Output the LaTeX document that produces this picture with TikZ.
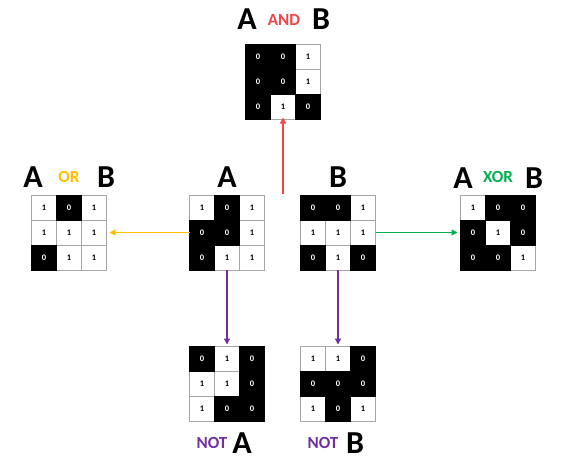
\documentclass[tikz,border=0pt]{standalone}
\usepackage{fontspec}
\setmainfont{Carlito}
\usetikzlibrary{arrows.meta,calc}
\definecolor{andred}{RGB}{242,70,70}
\definecolor{orgold}{RGB}{255,192,0}
\definecolor{xorgreen}{RGB}{0,176,80}
\definecolor{notpurple}{RGB}{112,48,160}
\tikzset{
  gridbox/.style={minimum size=75pt,inner sep=0pt,outer sep=0pt},
  cellw/.style={draw=gray!70,line width=0.7pt,fill=white,text=black,minimum size=25pt,inner sep=0pt,font=\fontsize{8.5}{8.5}\selectfont\bfseries},
  cellb/.style={draw=black,line width=0.7pt,fill=black,text=white,minimum size=25pt,inner sep=0pt,font=\fontsize{8.5}{8.5}\selectfont\bfseries},
  biglet/.style={anchor=base,inner sep=0pt,font=\fontsize{32}{32}\selectfont\bfseries},
  oplbl/.style={anchor=base,inner sep=0pt,font=\fontsize{17}{17}\selectfont\bfseries},
  conn/.style={line width=1.3pt,-{Triangle[length=6pt,width=6pt]}},
}
\newcommand\mkgrid[4]{%
  \node[gridbox] (#1) at (#2,#3) {};
  \foreach \v [count=\i from 0] in {#4} {
    \pgfmathtruncatemacro\rr{\i/3}
    \pgfmathtruncatemacro\cc{\i-3*\rr}
    \ifnum\v=1 \node[cellw] (#1-\i) at ($(#1)+(\cc*25-25,\rr*25-25)$) {\v};\fi
  }
  \foreach \v [count=\i from 0] in {#4} {
    \pgfmathtruncatemacro\rr{\i/3}
    \pgfmathtruncatemacro\cc{\i-3*\rr}
    \ifnum\v=0 \node[cellb] (#1-\i) at ($(#1)+(\cc*25-25,\rr*25-25)$) {\v};\fi
  }
}
\begin{document}
\begin{tikzpicture}[x=1pt,y=-1pt]
\useasboundingbox[fill=white] (0,0) rectangle (572,461);
% grids
\mkgrid{A}{227}{232.5}{1,0,1,0,0,1,0,1,1}
\mkgrid{B}{338}{232.5}{0,0,1,1,1,1,0,1,0}
\mkgrid{AND}{283}{82}{0,0,1,0,0,1,0,1,0}
\mkgrid{OR}{69}{232.5}{1,0,1,1,1,1,0,1,1}
\mkgrid{XOR}{498}{232.5}{1,0,0,0,1,0,0,0,1}
\mkgrid{NOTA}{227}{384}{0,1,0,1,1,0,1,0,0}
\mkgrid{NOTB}{338}{384}{1,1,0,0,0,0,1,0,1}
% labels
\node[biglet] (la) at (227,187) {A};
\node[biglet] (lb) at (338,187) {B};
\node[biglet] (anda) at (247,29) {A};
\node[oplbl,text=andred] (andop) at (284,25) {AND};
\node[biglet] (andb) at (321,29) {B};
\node[biglet] (ora) at (33,187) {A};
\node[oplbl,text=orgold] (orop) at (69,182) {OR};
\node[biglet] (orb) at (106,187) {B};
\node[biglet] (xora) at (463,188) {A};
\node[oplbl,text=xorgreen] (xorop) at (498,182) {XOR};
\node[biglet] (xorb) at (534,188) {B};
\node[oplbl,text=notpurple] (nota) at (212,448) {NOT};
\node[biglet] (notal) at (242,453) {A};
\node[oplbl,text=notpurple] (notb) at (323,448) {NOT};
\node[biglet] (notbl) at (355,453) {B};
% connectors
\coordinate (andstart) at (283,194);
\draw[conn,draw=andred,-{Triangle[length=6pt,width=6pt,fill=andred]}] (andstart) -- ([yshift=2pt]AND.south);
\draw[conn,draw=orgold,-{Triangle[length=6pt,width=6pt,fill=orgold]},shorten >=3pt] (A.west) -- (OR.east);
\draw[conn,draw=xorgreen,-{Triangle[length=6pt,width=6pt,fill=xorgreen]},shorten >=3pt] (B.east) -- (XOR.west);
\draw[conn,draw=notpurple,-{Triangle[length=6pt,width=6pt,fill=notpurple]},shorten >=2pt] (A.south) -- (NOTA.north);
\draw[conn,draw=notpurple,-{Triangle[length=6pt,width=6pt,fill=notpurple]},shorten >=2pt] (B.south) -- (NOTB.north);
\end{tikzpicture}
\end{document}
